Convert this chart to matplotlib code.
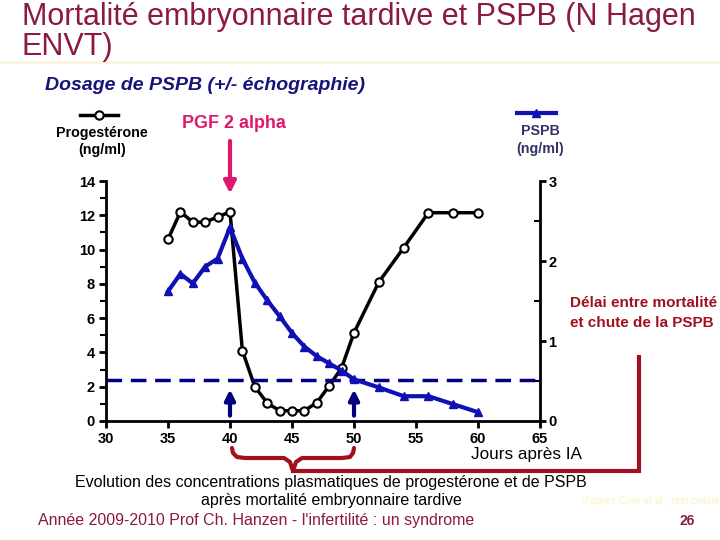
import matplotlib
matplotlib.use("Agg")
import matplotlib.pyplot as plt
from matplotlib.lines import Line2D
from matplotlib.ticker import MultipleLocator

plt.rcParams['font.family'] = ['Liberation Sans', 'DejaVu Sans']

# Données
jours_prog = [35, 36, 37, 38, 39, 40, 41, 42, 43, 44, 45, 46, 47, 48, 49, 50, 52, 54, 56, 58, 60]
progesterone = [10.6, 12.2, 11.6, 11.6, 11.9, 12.2, 4.1, 2.0, 1.05, 0.6, 0.6, 0.6, 1.07, 2.05, 3.1, 5.15, 8.1, 10.1, 12.15, 12.15, 12.15]

jours_pspb = [35, 36, 37, 38, 39, 40, 41, 42, 43, 44, 45, 46, 47, 48, 49, 50, 52, 54, 56, 58, 60]
pspb = [1.62, 1.84, 1.72, 1.93, 2.03, 2.42, 2.03, 1.73, 1.51, 1.31, 1.10, 0.93, 0.81, 0.72, 0.63, 0.52, 0.42, 0.31, 0.31, 0.21, 0.11]

seuil_pspb = 0.51
jour_pgf = 40
jours_fleches = [40, 50]

rouge = '#a0101e'
bordeaux = '#8c1a3a'
marine = '#14147a'
bleu = '#1010b4'
rose = '#e0186c'

fig = plt.figure(figsize=(7.2, 5.4), dpi=100)
ax = fig.add_axes([106/720, 1-421/540, 434/720, 240/540])
ax2 = ax.twinx()

ax.plot(jours_prog, progesterone, color='black', lw=2.5, marker='o', ms=6,
        mfc='white', mec='black', mew=1.5, zorder=4)
ax2.plot(jours_pspb, pspb, color=bleu, lw=3, marker='^', ms=6, mfc=bleu, mec=bleu, zorder=3)
ax2.plot([30, 65], [seuil_pspb, seuil_pspb], color='#000080', lw=2.5, dashes=(4.5, 2.5), zorder=2)

ax.set_xlim(30, 65)
ax.set_ylim(0, 14)
ax2.set_ylim(0, 3)
ax.set_xticks(range(30, 70, 5))
ax.set_yticks(range(0, 16, 2))
ax.yaxis.set_minor_locator(MultipleLocator(1))
ax2.set_yticks([0, 1, 2, 3])
ax2.yaxis.set_minor_locator(MultipleLocator(0.5))

for a in (ax, ax2):
    for s in a.spines.values():
        s.set_linewidth(2)
    a.spines['top'].set_visible(False)
ax.spines['right'].set_visible(False)
ax2.spines['left'].set_visible(False)
ax2.spines['bottom'].set_visible(False)

ax.tick_params(axis='both', which='major', direction='out', length=5, width=2, labelsize=10.5, pad=3)
ax.tick_params(axis='y', which='minor', direction='out', length=4, width=1.5)
ax2.tick_params(axis='y', which='major', direction='out', length=4, width=2, labelsize=10.5, pad=2)
ax2.tick_params(axis='y', which='minor', direction='in', length=4, width=1.5)
for lab in ax.get_xticklabels() + ax.get_yticklabels() + ax2.get_yticklabels():
    lab.set_fontweight('bold')

# flèches
ax.annotate('', xy=(jour_pgf, 13.1), xytext=(jour_pgf, 16.5), annotation_clip=False,
            arrowprops=dict(arrowstyle='-|>', color=rose, lw=3, mutation_scale=18))
for j in jours_fleches:
    ax.annotate('', xy=(j, 2.0), xytext=(j, 0.15),
                arrowprops=dict(arrowstyle='-|>', color='#000080', lw=3, mutation_scale=15))

# calque de décor en pixels
ov = fig.add_axes([0, 0, 1, 1], zorder=10)
ov.set_xlim(0, 720)
ov.set_ylim(540, 0)
ov.axis('off')
ov.patch.set_alpha(0)

ov.plot([0, 720], [62, 62], color='#fbf6d8', lw=2)
ov.text(22, 17, 'Mortalité embryonnaire tardive et PSPB (N Hagen', fontsize=22, color=bordeaux, va='center')
ov.text(22, 47, 'ENVT)', fontsize=22, color=bordeaux, va='center')
ov.text(45, 85, 'Dosage de PSPB (+/- échographie)', fontsize=14, color=marine,
        fontweight='bold', fontstyle='italic', va='center')

# légendes
ov.add_line(Line2D([80, 118], [115, 115], color='black', lw=2.5))
ov.plot([99], [115], marker='o', ms=6, mfc='white', mec='black', mew=1.5)
ov.text(102, 133, 'Progestérone', fontsize=10.3, fontweight='bold', ha='center', va='center')
ov.text(102, 150, '(ng/ml)', fontsize=10.3, fontweight='bold', ha='center', va='center')
ov.add_line(Line2D([517, 556], [113, 113], color=bleu, lw=3))
ov.plot([536], [113], marker='^', ms=6, color=bleu)
ov.text(540, 131, 'PSPB', fontsize=10.3, fontweight='bold', color='#33336a', ha='center', va='center')
ov.text(540, 149, '(ng/ml)', fontsize=10.3, fontweight='bold', color='#33336a', ha='center', va='center')

ov.text(234, 123, 'PGF 2 alpha', fontsize=12.9, fontweight='bold', color=rose, ha='center', va='center')
ov.text(526, 454, 'Jours après IA', fontsize=12.3, ha='center', va='center')
ov.text(570, 303, 'Délai entre mortalité', fontsize=11, fontweight='bold', color=rouge, va='center')
ov.text(570, 323, 'et chute de la PSPB', fontsize=11, fontweight='bold', color=rouge, va='center')

# accolade rouge et liaison
brace_x = [232, 233, 237, 245, 284, 290, 293, 296, 302, 342, 350, 353, 354]
brace_y = [448, 453, 457, 458, 458, 462, 471, 462, 458, 458, 457, 453, 448]
ov.plot(brace_x, brace_y, color=rouge, lw=3, solid_capstyle='round', solid_joinstyle='round')
ov.plot([293, 639, 639], [471, 471, 357], color=rouge, lw=3, solid_joinstyle='miter')

ov.text(331, 483, 'Evolution des concentrations plasmatiques de progestérone et de PSPB',
        fontsize=11.5, ha='center', va='center')
ov.text(331, 501, 'après mortalité embryonnaire tardive', fontsize=11.5, ha='center', va='center')
ov.text(582, 501, "d'après Cole et al., non publié", fontsize=7.5, color='#fbf3c4', va='center')
ov.text(38, 521, "Année 2009-2010 Prof Ch. Hanzen - l'infertilité : un syndrome",
        fontsize=11.5, color=bordeaux, va='center')
ov.text(687, 521, '26', fontsize=10, fontweight='bold', color=bordeaux, ha='center', va='center')

fig.savefig('out.png', dpi=100)
